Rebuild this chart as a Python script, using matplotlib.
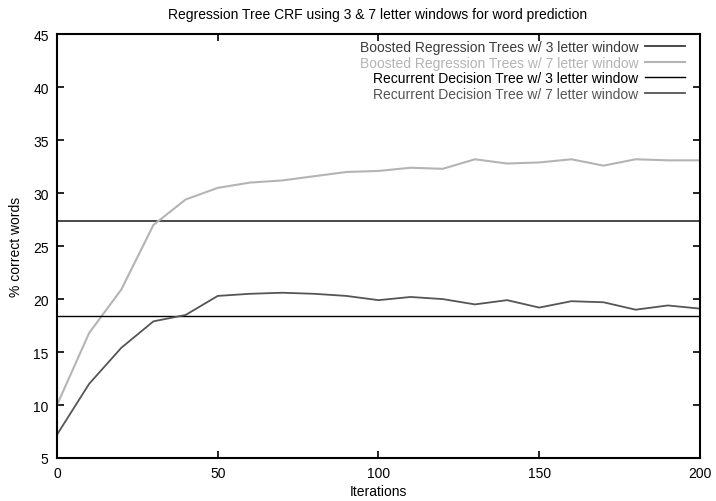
import numpy as np
import matplotlib
matplotlib.use('Agg')
import matplotlib.pyplot as plt

plt.rcParams['font.family'] = ['Liberation Sans', 'DejaVu Sans']

# データ
iterations = [0, 10, 20, 30, 40, 50, 60, 70, 80, 90, 100,
              110, 120, 130, 140, 150, 160, 170, 180, 190, 200]
boosted_7 = [10.0, 16.8, 20.9, 27.0, 29.4, 30.5, 31.0, 31.2, 31.6, 32.0, 32.1,
             32.4, 32.3, 33.2, 32.8, 32.9, 33.2, 32.6, 33.2, 33.1, 33.1]
recurrent_7 = [7.2, 12.0, 15.4, 17.9, 18.5, 20.3, 20.5, 20.6, 20.5, 20.3, 19.9,
               20.2, 20.0, 19.5, 19.9, 19.2, 19.8, 19.7, 19.0, 19.4, 19.1]
boosted_3 = 27.4
recurrent_3 = 18.4

labels = ['Boosted Regression Trees w/ 3 letter window',
          'Boosted Regression Trees w/ 7 letter window',
          'Recurrent Decision Tree w/ 3 letter window',
          'Recurrent Decision Tree w/ 7 letter window']
colors = ['#3a3a3a', '#b4b4b4', '#000000', '#555555']

fig = plt.figure(figsize=(7.16, 5.02), dpi=100)
ax = fig.add_axes([0.0796, 0.0857, 0.898, 0.844])

n = len(iterations)
ax.plot(iterations, [boosted_3] * n, color=colors[0], linewidth=1.3, label=labels[0])
ax.plot(iterations, boosted_7, color=colors[1], linewidth=1.5, label=labels[1])
ax.plot(iterations, [recurrent_3] * n, color=colors[2], linewidth=1.0, label=labels[2])
ax.plot(iterations, recurrent_7, color=colors[3], linewidth=1.3, label=labels[3])

ax.set_xlim(0, 200)
ax.set_ylim(5, 45)
ax.set_xticks([0, 50, 100, 150, 200])
ax.set_yticks(np.arange(5, 46, 5))
ax.tick_params(axis='x', pad=6)
ax.tick_params(axis='y', pad=6)
ax.tick_params(direction='in', top=True, right=True, length=5, width=1.2,
               labelsize=10)
for s in ax.spines.values():
    s.set_linewidth(1.5)

ax.set_xlabel('Iterations', fontsize=10, labelpad=3)
ax.set_ylabel('% correct words', fontsize=10, labelpad=7)
fig.text(0.528, 0.970, 'Regression Tree CRF using 3 & 7 letter windows for word prediction',
         fontsize=10, ha='center', va='center')

leg = ax.legend(loc='upper right', frameon=False, markerfirst=False, fontsize=10,
                handlelength=2.9, handletextpad=0.5, labelspacing=0.12,
                borderaxespad=0.0, bbox_to_anchor=(0.986, 1.0))
for txt, c in zip(leg.get_texts(), colors):
    txt.set_color(c)
    txt.set_ha('right')

fig.savefig('out.png', dpi=100)
